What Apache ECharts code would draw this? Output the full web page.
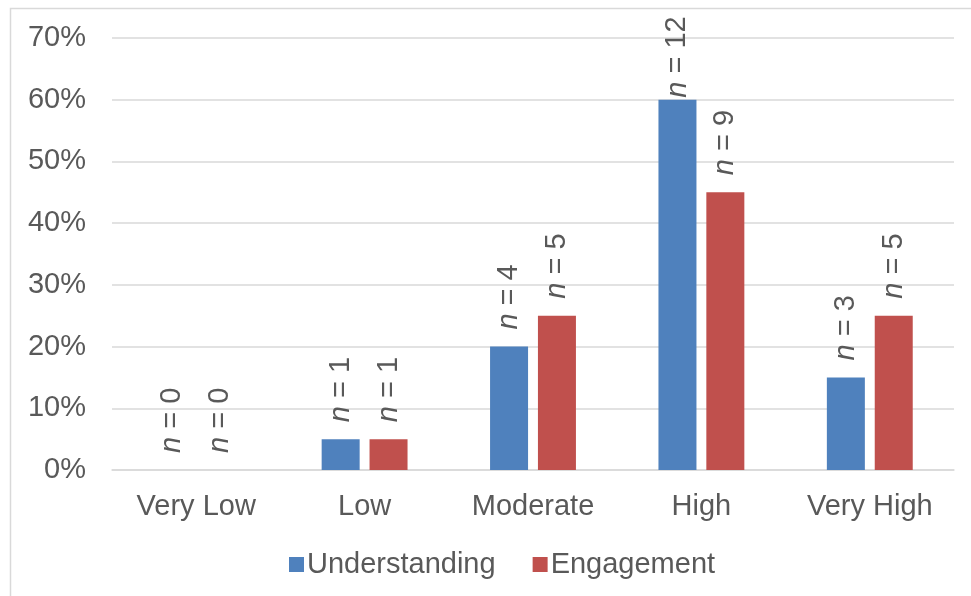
<!DOCTYPE html>
<html>
<head>
<meta charset="utf-8">
<script src="https://cdn.jsdelivr.net/npm/echarts@6/dist/echarts.min.js"></script>
<style>
  html, body { margin: 0; padding: 0; background: #ffffff; }
  #chart { width: 971px; height: 596px; }
</style>
</head>
<body>
<div id="chart"></div>
<script>
// Rating categories and shares (%) for each measure
const categories = ['Very Low', 'Low', 'Moderate', 'High', 'Very High'];
const understandingPct = [0, 5, 20, 60, 15];
const engagementPct = [0, 5, 25, 45, 25];
// Respondent counts shown above each bar
const understandingN = [0, 1, 4, 12, 3];
const engagementN = [0, 1, 5, 9, 5];
const yTicks = [0, 10, 20, 30, 40, 50, 60, 70];

const textColor = '#595959';
const fontFamily = 'Arial, "Liberation Sans", sans-serif';
const fontSize = 29;

const grid = { left: 112, right: 17, top: 38, bottom: 126 };
const chartHeight = 596;
const labelGap = 17;      // normal space between bar top and its count label
const labelTopLimit = 17; // labels are pushed down so they never rise above this y

// Width of a label string, used to keep tall labels inside the chart area
const measureCtx = document.createElement('canvas').getContext('2d');
function labelLength(count) {
  measureCtx.font = 'italic ' + fontSize + 'px ' + fontFamily;
  const nW = measureCtx.measureText('n').width;
  measureCtx.font = fontSize + 'px ' + fontFamily;
  return nW + measureCtx.measureText(' = ' + count).width;
}

function buildData(values, counts) {
  const yMax = yTicks[yTicks.length - 1];
  const plotH = chartHeight - grid.top - grid.bottom;
  return values.map((v, i) => {
    const barTop = grid.top + plotH * (1 - v / yMax);
    const room = barTop - labelTopLimit - labelLength(counts[i]);
    const dist = Math.max(2, Math.min(labelGap, room));
    return dist < labelGap ? { value: v, label: { distance: dist } } : v;
  });
}

function countLabel(counts) {
  return {
    show: true,
    position: 'top',
    rotate: 90,
    align: 'left',
    verticalAlign: 'middle',
    distance: labelGap,
    formatter: p => '{i|n} = ' + counts[p.dataIndex],
    color: textColor,
    fontSize: fontSize,
    fontFamily: fontFamily,
    rich: {
      i: { fontStyle: 'italic', fontSize: fontSize, color: textColor, fontFamily: fontFamily }
    }
  };
}

const chart = echarts.init(document.getElementById('chart'), null, { renderer: 'canvas' });
chart.setOption({
  animation: false,
  backgroundColor: '#ffffff',
  textStyle: { fontFamily: fontFamily },
  graphic: [{
    type: 'rect',
    shape: { x: 10.5, y: 8.5, width: 1200, height: 1200 },
    style: { fill: 'none', stroke: '#d9d9d9', lineWidth: 1.5 },
    silent: true
  }],
  grid: grid,
  legend: {
    data: ['Understanding', 'Engagement'],
    left: 284,
    top: 545,
    itemWidth: 15,
    itemHeight: 15,
    itemGap: 37,
    icon: 'rect',
    textStyle: { color: textColor, fontSize: fontSize, fontFamily: fontFamily, padding: [0, 0, 0, -2] }
  },
  xAxis: {
    type: 'category',
    data: categories,
    axisLine: { show: true, lineStyle: { color: '#d9d9d9', width: 1.5 } },
    axisTick: { show: false },
    axisLabel: { color: textColor, fontSize: fontSize, margin: 22, fontFamily: fontFamily }
  },
  yAxis: {
    type: 'value',
    min: yTicks[0],
    max: yTicks[yTicks.length - 1],
    interval: 10,
    axisLine: { show: false },
    axisTick: { show: false },
    splitLine: { lineStyle: { color: '#d9d9d9', width: 1.5 } },
    axisLabel: { color: textColor, fontSize: fontSize, margin: 26, fontFamily: fontFamily, formatter: '{value}%' }
  },
  series: [
    {
      name: 'Understanding',
      type: 'bar',
      data: buildData(understandingPct, understandingN),
      barWidth: 38,
      barGap: '26%',
      itemStyle: { color: '#4f81bd' },
      label: countLabel(understandingN)
    },
    {
      name: 'Engagement',
      type: 'bar',
      data: buildData(engagementPct, engagementN),
      barWidth: 38,
      barGap: '26%',
      itemStyle: { color: '#c0504d' },
      label: countLabel(engagementN)
    }
  ]
});
</script>
</body>
</html>
